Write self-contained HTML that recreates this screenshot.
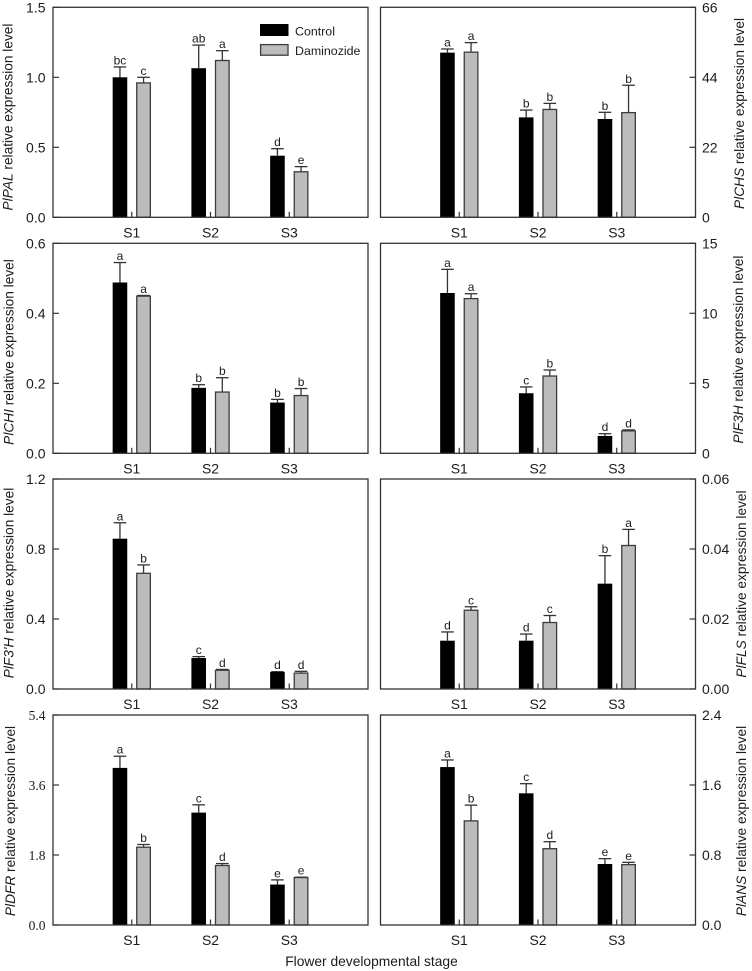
<!DOCTYPE html>
<html lang="en">
<head>
<meta charset="utf-8">
<title>Flower developmental stage relative expression</title>
<style>
html,body{margin:0;padding:0;background:#fff;}
svg{display:block;font-family:"Liberation Sans",Arial,sans-serif;fill:#1c1c1c;}
</style>
</head>
<body>
<svg id="chart" xmlns="http://www.w3.org/2000/svg" width="752" height="971" viewBox="0 0 752 971">
  <g>
    <rect x="260" y="24" width="28.5" height="12" fill="#000"/>
    <text x="295" y="35.5" font-size="12.4">Control</text>
    <rect x="260.6" y="44.6" width="27.4" height="10.6" fill="#bcbcbc" stroke="#3c3c3c" stroke-width="1.3"/>
    <text x="295" y="55" font-size="12.4">Daminozide</text>
  </g>
  <text x="371.5" y="966" font-size="13.8" text-anchor="middle">Flower developmental stage</text>
</svg>
<script>
const stages = ['S1', 'S2', 'S3'];

const palControl = [1.0, 1.065, 0.44];
const palControlErr = [0.074, 0.165, 0.05];
const palTreated = [0.96, 1.12, 0.325];
const palTreatedErr = [0.04, 0.07, 0.037];
const palControlLetters = ['bc', 'ab', 'd'];
const palTreatedLetters = ['c', 'a', 'e'];
const palTicks = ['0.0', '0.5', '1.0', '1.5'];

const chsControl = [51.75, 31.4, 30.9];
const chsControlErr = [1.15, 2.3, 2.1];
const chsTreated = [51.9, 33.9, 32.9];
const chsTreatedErr = [3, 1.9, 8.6];
const chsControlLetters = ['a', 'b', 'b'];
const chsTreatedLetters = ['a', 'b', 'b'];
const chsTicks = ['0', '22', '44', '66'];

const chiControl = [0.488, 0.187, 0.145];
const chiControlErr = [0.057, 0.009, 0.009];
const chiTreated = [0.449, 0.175, 0.165];
const chiTreatedErr = [0.002, 0.041, 0.02];
const chiControlLetters = ['a', 'b', 'b'];
const chiTreatedLetters = ['a', 'b', 'b'];
const chiTicks = ['0.0', '0.2', '0.4', '0.6'];

const f3hControl = [11.45, 4.29, 1.24];
const f3hControlErr = [1.69, 0.45, 0.16];
const f3hTreated = [11.05, 5.52, 1.6];
const f3hTreatedErr = [0.35, 0.43, 0.07];
const f3hControlLetters = ['a', 'c', 'd'];
const f3hTreatedLetters = ['a', 'b', 'd'];
const f3hTicks = ['0', '5', '10', '15'];

const f3phControl = [0.859, 0.177, 0.097];
const f3phControlErr = [0.091, 0.008, 0.002];
const f3phTreated = [0.661, 0.107, 0.091];
const f3phTreatedErr = [0.048, 0.005, 0.01];
const f3phControlLetters = ['a', 'c', 'd'];
const f3phTreatedLetters = ['b', 'd', 'd'];
const f3phTicks = ['0.0', '0.4', '0.8', '1.2'];

const flsControl = [0.0138, 0.0138, 0.0301];
const flsControlErr = [0.0025, 0.0019, 0.008];
const flsTreated = [0.0225, 0.019, 0.041];
const flsTreatedErr = [0.001, 0.002, 0.0046];
const flsControlLetters = ['d', 'd', 'b'];
const flsTreatedLetters = ['c', 'c', 'a'];
const flsTicks = ['0.00', '0.02', '0.04', '0.06'];

const dfrControl = [4.04, 2.89, 1.04];
const dfrControlErr = [0.30, 0.20, 0.12];
const dfrTreated = [2.0, 1.53, 1.22];
const dfrTreatedErr = [0.07, 0.05, 0.01];
const dfrControlLetters = ['a', 'c', 'e'];
const dfrTreatedLetters = ['b', 'd', 'e'];
const dfrTicks = ['0.0', '1.8', '3.6', '5.4'];

const ansControl = [1.805, 1.505, 0.697];
const ansControlErr = [0.081, 0.11, 0.061];
const ansTreated = [1.19, 0.872, 0.69];
const ansTreatedErr = [0.18, 0.08, 0.026];
const ansControlLetters = ['a', 'c', 'e'];
const ansTreatedLetters = ['b', 'd', 'e'];
const ansTicks = ['0.0', '0.8', '1.6', '2.4'];

const panels = [
  {gene: 'PlPAL', side: 'left', top: 7.3, titleX: 12.5, titleY: 117, c: palControl, ce: palControlErr, t: palTreated, te: palTreatedErr, cl: palControlLetters, tl: palTreatedLetters, ticks: palTicks},
  {gene: 'PlCHS', side: 'right', top: 7.3, titleX: 744, titleY: 113.5, c: chsControl, ce: chsControlErr, t: chsTreated, te: chsTreatedErr, cl: chsControlLetters, tl: chsTreatedLetters, ticks: chsTicks},
  {gene: 'PlCHI', side: 'left', top: 243.3, titleX: 13.5, titleY: 352, c: chiControl, ce: chiControlErr, t: chiTreated, te: chiTreatedErr, cl: chiControlLetters, tl: chiTreatedLetters, ticks: chiTicks},
  {gene: 'PlF3H', side: 'right', top: 243.3, titleX: 743, titleY: 349.5, c: f3hControl, ce: f3hControlErr, t: f3hTreated, te: f3hTreatedErr, cl: f3hControlLetters, tl: f3hTreatedLetters, ticks: f3hTicks},
  {gene: "PlF3'H", side: 'left', top: 479, titleX: 13.5, titleY: 583, c: f3phControl, ce: f3phControlErr, t: f3phTreated, te: f3phTreatedErr, cl: f3phControlLetters, tl: f3phTreatedLetters, ticks: f3phTicks},
  {gene: 'PlFLS', side: 'right', top: 479, titleX: 746, titleY: 584, c: flsControl, ce: flsControlErr, t: flsTreated, te: flsTreatedErr, cl: flsControlLetters, tl: flsTreatedLetters, ticks: flsTicks},
  {gene: 'PlDFR', side: 'left', top: 715, titleX: 15, titleY: 821, c: dfrControl, ce: dfrControlErr, t: dfrTreated, te: dfrTreatedErr, cl: dfrControlLetters, tl: dfrTreatedLetters, ticks: dfrTicks, serifTicks: true},
  {gene: 'PlANS', side: 'right', top: 715, titleX: 746, titleY: 821, c: ansControl, ce: ansControlErr, t: ansTreated, te: ansTreatedErr, cl: ansControlLetters, tl: ansTreatedLetters, ticks: ansTicks}
];

const NS = 'http://www.w3.org/2000/svg';
const LINE = '#333';
const PANEL_W = 315;
const PANEL_H = 210;
const svg = document.getElementById('chart');

function make(parent, tag, attrs, text) {
  const el = document.createElementNS(NS, tag);
  for (const k in attrs) el.setAttribute(k, attrs[k]);
  if (text !== undefined) el.textContent = text;
  parent.appendChild(el);
  return el;
}

function drawBar(g, p, xPos, yPos, i, value, err, letter, series) {
  const bx = xPos(i + 1) + (series === 'control' ? -11.8 : 11.8);
  const y = yPos(value);
  const yTop = yPos(value + err);
  const base = yPos(0);

  const whisker = make(g, 'line', {x1: bx, x2: bx, y1: y, y2: yTop, stroke: LINE, 'stroke-width': 1.3});
  
  

  const cap = make(g, 'line', {x1: bx - 6.3, x2: bx + 6.3, y1: yTop, y2: yTop, stroke: LINE, 'stroke-width': 1.3});
  
  

  const rectAttrs = series === 'control'
    ? {x: bx - 7.3, y: y, width: 14.6, height: base - y, fill: '#000'}
    : {x: bx - 6.8, y: y, width: 13.6, height: base - y, fill: '#bcbcbc', stroke: '#3c3c3c', 'stroke-width': 1.3};
  const bar = make(g, 'rect', rectAttrs);
  
  

  const sig = make(g, 'text', {x: bx, y: yTop - 2.5, 'font-size': 12, 'text-anchor': 'middle'}, letter);
  
  
}

panels.forEach(function (p) {
  const left = p.side === 'left' ? 53 : 380.5;
  const maxVal = parseFloat(p.ticks[p.ticks.length - 1]);
  const xPos = function (k) { return left + k * PANEL_W / 4; };
  const yPos = function (v) { return p.top + PANEL_H - v / maxVal * PANEL_H; };
  const slug = p.gene.toLowerCase().replace("'", 'p');

  const g = make(svg, 'g', {});
  
  

  stages.forEach(function (stage, i) {
    drawBar(g, p, xPos, yPos, i, p.c[i], p.ce[i], p.cl[i], 'control');
    drawBar(g, p, xPos, yPos, i, p.t[i], p.te[i], p.tl[i], 'daminozide');

    const tick = make(g, 'line', {x1: xPos(i + 1), x2: xPos(i + 1), y1: yPos(0), y2: yPos(0) - 5.5, stroke: LINE, 'stroke-width': 1.2});
    
    

    const lab = make(g, 'text', {x: xPos(i + 1), y: yPos(0) + 20, 'font-size': 14, 'text-anchor': 'middle'}, stage);
    
    
  });

  p.ticks.forEach(function (label) {
    const v = parseFloat(label);
    const y = yPos(v);
    const isLeft = p.side === 'left';
    const edge = isLeft ? left : left + PANEL_W;
    const tick = make(g, 'line', {x1: edge, x2: edge + (isLeft ? 6 : -6), y1: y, y2: y, stroke: LINE, 'stroke-width': 1.2});
    
    

    const attrs = {x: isLeft ? 45.5 : 702, y: y + 5, 'font-size': p.serifTicks ? 13.5 : 14, 'text-anchor': isLeft ? 'end' : 'start'};
    if (p.serifTicks) attrs['font-family'] = '"Liberation Serif", serif';
    const lab = make(g, 'text', attrs, label);
    
    
  });

  const frame = make(g, 'rect', {x: left, y: p.top, width: PANEL_W, height: PANEL_H, fill: 'none', stroke: LINE, 'stroke-width': 1.3});
  
  

  const title = make(g, 'text', {transform: 'translate(' + p.titleX + ' ' + p.titleY + ') rotate(-90)', 'font-size': 13.7, 'text-anchor': 'middle'});
  
  
  make(title, 'tspan', {'font-style': 'italic'}, p.gene);
  make(title, 'tspan', {}, ' relative expression level');
});
</script>
</body>
</html>
